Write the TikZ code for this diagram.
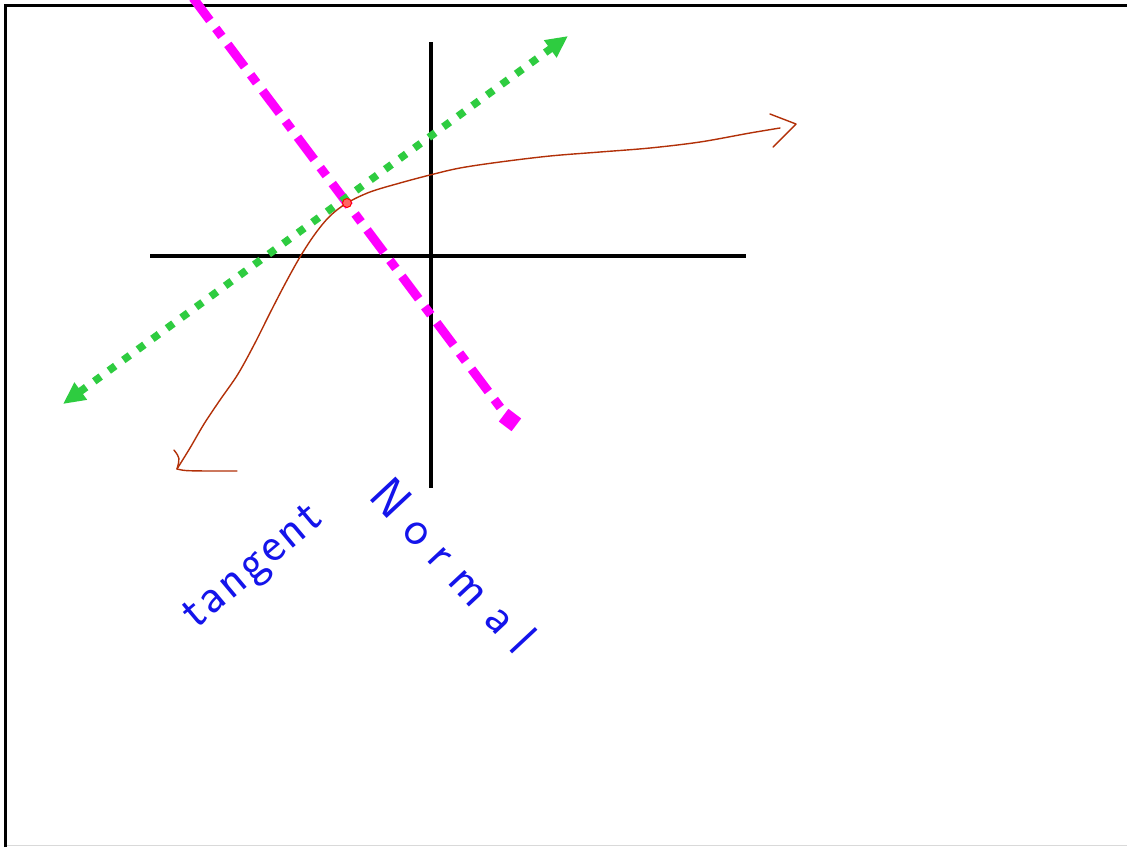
\documentclass[tikz,border=0pt]{standalone}
\usepackage{fontspec}
\newfontfamily\handfont{Latin Modern Sans}
\usetikzlibrary{arrows.meta}
\definecolor{curvebrown}{RGB}{178,48,8}
\definecolor{tangentgreen}{RGB}{46,204,64}
\definecolor{normalmagenta}{RGB}{255,0,255}
\definecolor{inkblue}{RGB}{20,20,235}
\begin{document}
\begin{tikzpicture}[x=1pt,y=-1pt,
  axis/.style={line width=3.6pt,black},
  tangentline/.style={tangentgreen,line width=7.5pt,dash pattern=on 8pt off 10pt,
     {Triangle[length=22pt,width=20pt,sep=0pt]}-{Triangle[length=22pt,width=20pt]}},
  normalline/.style={normalmagenta,line width=9pt,dash pattern=on 28pt off 10pt on 10pt off 10pt},
  curve/.style={curvebrown,line width=1.4pt,line cap=round,line join=round},
  label/.style={inkblue,inner sep=0pt}]
\useasboundingbox (0,0) rectangle (1127,847);
\fill[white] (0,0) rectangle (1127,847);
% frame
\draw[black!15,line width=1.2pt] (5,845.5) -- (1127,845.5);
\draw[black,line width=2.6pt] (5.5,847) -- (5.5,5.5) -- (1127,5.5);
% axes
\draw[axis] (150,256) -- (746,256);
\draw[axis] (431,42) -- (431,488);
% normal line
\draw[normalline] (193,-2) -- (503,411);
\fill[normalmagenta,rotate around={-37:(510,420)}] (502,412) rectangle (518,428);
% tangent line
\draw[tangentline] (63,404) -- (568,36);
% curve
\draw[curve] plot[smooth,tension=0.55] coordinates {(780,128) (750,133) (700,142) (650,148) (600,152) (550,156) (500,162) (460,168) (430,175) (400,183) (370,192) (347,203) (330,216) (315,234) (300,257) (285,284) (270,313) (255,343) (238,374) (220,400) (204,424) (190,448) (177,469)};
\draw[curve] (770,114) -- (796,124) -- (773,147);
\draw[curve] (174,450) .. controls (180,458) .. (177,469) .. controls (185,471) .. (237,471);
% point
\draw[red,fill=red!60,line width=1pt] (347,203) circle (4.5pt);
% labels
\node[label,rotate=40,font={\handfont\addfontfeature{LetterSpace=6}\fontsize{50}{52}\selectfont}] (tangent) at (255,569) {tangent};
\node[label,rotate=-47,font={\handfont\addfontfeature{LetterSpace=30}\fontsize{50}{52}\selectfont}] (normal) at (454,565) {Normal};
\end{tikzpicture}
\end{document}
